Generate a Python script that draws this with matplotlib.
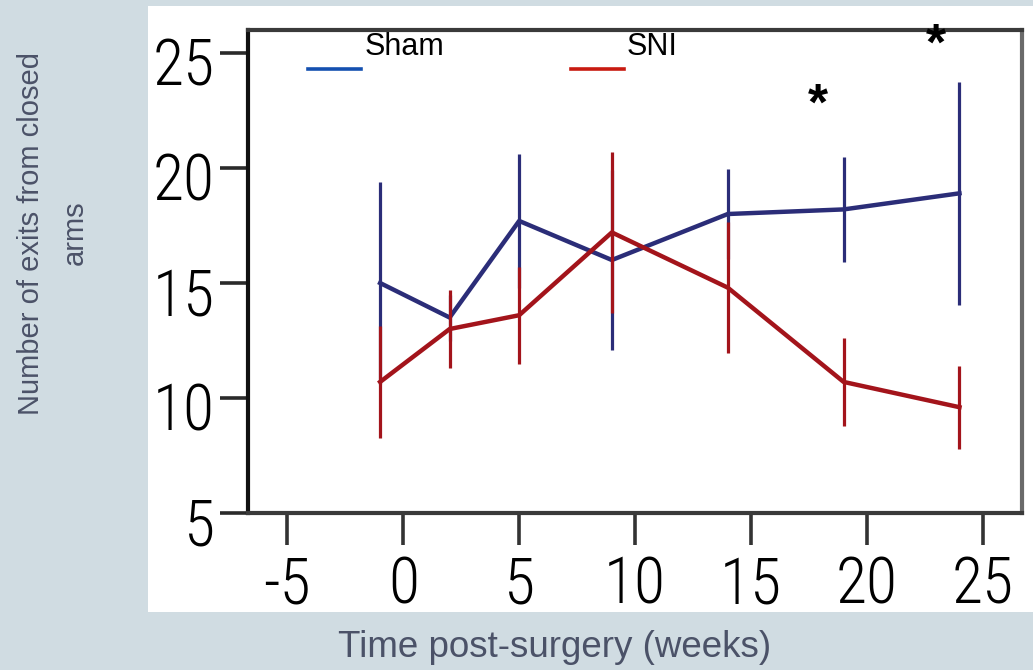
import matplotlib
matplotlib.use("Agg")
import matplotlib.pyplot as plt
from matplotlib.patches import Rectangle
from matplotlib.lines import Line2D
from matplotlib.transforms import Bbox, TransformedBbox, ScaledTranslation

# ---- data ----
weeks = [-1, 2, 5, 9, 14, 19, 24]
sham_mean = [15.0, 13.5, 17.7, 16.0, 18.0, 18.2, 18.9]
sham_err = [4.4, 1.0, 2.9, 3.9, 1.95, 2.3, 4.85]
sni_mean = [10.7, 13.0, 13.6, 17.2, 14.8, 10.7, 9.6]
sni_err = [2.45, 1.7, 2.1, 3.5, 2.85, 1.9, 1.8]
series_names = ["Sham", "SNI"]
x_ticks = [-5, 0, 5, 10, 15, 20, 25]
y_ticks = [5, 10, 15, 20, 25]
star_x = [17.9, 23.0]
star_y = [22.7, 25.3]

BG = "#d0dce2"
SHAM_C = "#2b2d78"
SNI_C = "#a3141b"
LABEL_C = "#4b5268"

fig = plt.figure(figsize=(10.33, 6.70), dpi=100, facecolor=BG)

# white panel
panel_ext = (0.1433, 0.0866, 1.0, 0.991)
panel = Rectangle((panel_ext[0], panel_ext[1]), panel_ext[2] - panel_ext[0],
                  panel_ext[3] - panel_ext[1], transform=fig.transFigure,
                  facecolor="white", edgecolor="none", zorder=-5)
fig.patches.append(panel)

ax = fig.add_axes([0.2401, 0.2343, 0.7493, 0.7209])
ax.set_facecolor("white")
ax.set_zorder(1)

ax.errorbar(weeks, sham_mean, yerr=sham_err, color=SHAM_C, lw=3.2,
            elinewidth=2.3, capsize=0, zorder=3)
ax.errorbar(weeks, sni_mean, yerr=sni_err, color=SNI_C, lw=3.2,
            elinewidth=2.3, capsize=0, zorder=4)

for sx, sy in zip(star_x, star_y):
    ax.text(sx, sy, "*", ha="center", va="center", fontsize=37,
            fontweight="bold", family="Liberation Sans", color="black", zorder=6)

ax.set_xlim(-6.7, 26.7)
ax.set_ylim(5, 26)
ax.set_xticks(x_ticks)
ax.set_yticks(y_ticks)
ax.set_xticklabels([str(v) for v in x_ticks])
ax.set_yticklabels([str(v) for v in y_ticks])

tick_font = ["Roboto Condensed", "Archivo Narrow", "DejaVu Sans"]
ax.tick_params(axis="y", direction="out", length=20, width=2.6, color="#2a2a2a",
               pad=4, labelsize=46, labelcolor="black")
ax.tick_params(axis="x", direction="out", length=23, width=2.6, color="#333333",
               pad=7, labelsize=46, labelcolor="black")

clipbox = TransformedBbox(Bbox.from_extents(*panel_ext), fig.transFigure)
for lab in ax.get_xticklabels():
    lab.set_family(tick_font)
    lab.set_fontweight("light")
    lab.set_clip_box(clipbox)
    lab.set_clip_on(True)
for lab in ax.get_yticklabels():
    lab.set_family(tick_font)
    lab.set_fontweight("light")
    lab.set_transform(lab.get_transform() +
                      ScaledTranslation(0, -8 / 100, fig.dpi_scale_trans))

ax.spines["left"].set_color("#111111")
ax.spines["top"].set_color("#3a3a3a")
ax.spines["right"].set_color("#6a6a6a")
ax.spines["bottom"].set_color("#3a3a3a")
for sp in ax.spines.values():
    sp.set_linewidth(3.0)

# legend (manual, matches original layout)
leg_colors = ["#1450b0", "#c81a10"]
leg_line_x = [(0.0775, 0.146), (0.417, 0.486)]
leg_text_x = [0.150, 0.489]
for name, c, (x0, x1), tx in zip(series_names, leg_colors, leg_line_x, leg_text_x):
    ax.add_line(Line2D([x0, x1], [0.919, 0.919], transform=ax.transAxes,
                       color=c, lw=2.6, zorder=5))
    ax.text(tx, 0.965, name, transform=ax.transAxes, ha="left", va="center",
            fontsize=22, family="Liberation Sans", color="black", zorder=5)

fig.text(0.537, 0.033, "Time post-surgery (weeks)", ha="center", va="center",
         fontsize=26.5, family="Liberation Sans", color=LABEL_C)
fig.text(0.0515, 0.652, "Number of exits from closed\narms", ha="center",
         va="center", rotation=90, fontsize=21, family="Liberation Sans",
         color=LABEL_C, linespacing=1.7, multialignment="center")

fig.savefig("out.png", dpi=100, facecolor=BG)
